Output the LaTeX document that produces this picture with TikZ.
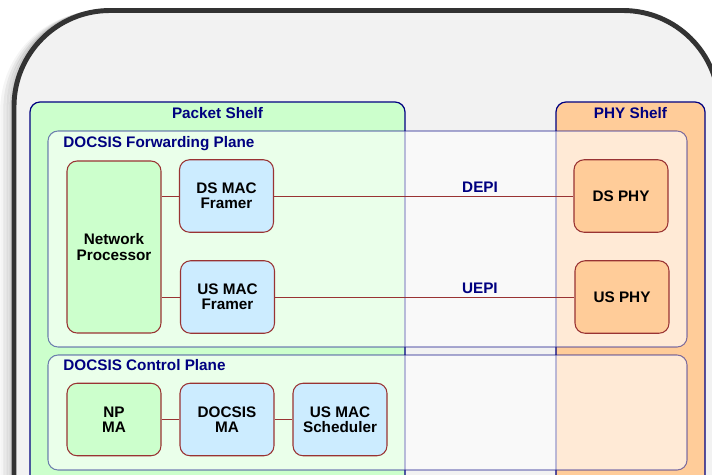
\documentclass[tikz,border=0pt]{standalone}
\usepackage{xcolor}
\usepackage{fontspec}
\setmainfont{Liberation Sans}
\usetikzlibrary{positioning}

\definecolor{framedark}{RGB}{51,51,51}
\definecolor{framegrey}{RGB}{242,242,242}
\definecolor{navy}{RGB}{0,0,128}
\definecolor{boxred}{RGB}{153,51,51}
\definecolor{lightgreen}{RGB}{204,255,204}
\definecolor{lightblue}{RGB}{204,236,255}
\definecolor{lightorange}{RGB}{255,204,153}

\newcommand{\labelfont}{\bfseries\fontsize{8.7}{8.6}\selectfont}

\tikzset{
    block/.style={
        draw=boxred,
        line width=0.6pt,
        rounded corners=0.2cm,
        minimum width=1.88cm,
        minimum height=1.45cm,
        inner sep=0pt,
        align=center,
        font=\labelfont
    },
    greenblock/.style={block, fill=lightgreen},
    blueblock/.style={block, fill=lightblue},
    phyblock/.style={block, fill=lightorange},
    link/.style={draw=boxred, line width=0.5pt},
    title/.style={text=navy, font=\labelfont, inner sep=0pt},
    shelf/.style={
        draw=navy,
        line width=0.7pt,
        rounded corners=0.2cm
    },
    plane/.style={
        draw=navy,
        draw opacity=0.5,
        fill=white,
        fill opacity=0.6,
        line width=0.6pt,
        rounded corners=0.2cm
    }
}

\begin{document}
\begin{tikzpicture}[x=0.02cm, y=-0.02cm]
    \useasboundingbox (0,0) rectangle (712,474);
    \clip (0,0) rectangle (712,474);

    % soft shadow on the left of the chassis
    \foreach \d/\op in {2/0.10, 5/0.08, 8/0.06, 11/0.04}
        \draw[
            line width=3pt,
            black,
            opacity=\op,
            rounded corners=1.92cm
            ] (14-\d,10.5+\d*0.3) rectangle (719-\d,620);

    % chassis
    \draw[
        line width=2.8pt,
        color=framedark,
        fill=framegrey,
        rounded corners=1.92cm
        ] (14,10.5) rectangle (719,620);

    % shelves
    \draw[shelf, fill=lightgreen] (30,102) rectangle (405,520);
    \draw[shelf, fill=lightorange] (556,102) rectangle (705,520);
    \node[title, anchor=base] (packettitle) at (217.5,118) {Packet Shelf};
    \node[title, anchor=base] (phytitle) at (630.5,118) {PHY Shelf};

    % planes
    \draw[plane] (48,131) rectangle (687,347);
    \draw[plane] (48,355) rectangle (687,470);
    \node[title, anchor=base west] (fwdtitle) at (63,147) {DOCSIS Forwarding Plane};
    \node[title, anchor=base west] (ctrltitle) at (63,370) {DOCSIS Control Plane};

    % forwarding plane blocks
    \node[greenblock, minimum height=3.44cm] (np) at (114,247) {Network\\Processor};
    \node[blueblock] (dsmac) at (226.5,196) {DS MAC\\Framer};
    \node[blueblock] (usmac) at (227.5,297) {US MAC\\Framer};
    \node[phyblock] (dsphy) at (621,196) {DS PHY};
    \node[phyblock] (usphy) at (622,297) {US PHY};

    % control plane blocks
    \node[greenblock] (npma) at (114,419.5) {NP\\MA};
    \node[blueblock] (docsisma) at (227,419.5) {DOCSIS\\MA};
    \node[blueblock] (sched) at (340,419.5) {US MAC\\Scheduler};

    % links
    \draw[link] (np.east |- dsmac.west) -- (dsmac.west);
    \draw[link] (np.east |- usmac.west) -- (usmac.west);
    \draw[link] (dsmac) -- (dsphy)
        node[title, pos=0.688, above=1.7pt] (depi) {DEPI};
    \draw[link] (usmac) -- (usphy)
        node[title, pos=0.684, above=1.7pt] (uepi) {UEPI};
    \draw[link] (npma) -- (docsisma);
    \draw[link] (docsisma) -- (sched);

\end{tikzpicture}
\end{document}
